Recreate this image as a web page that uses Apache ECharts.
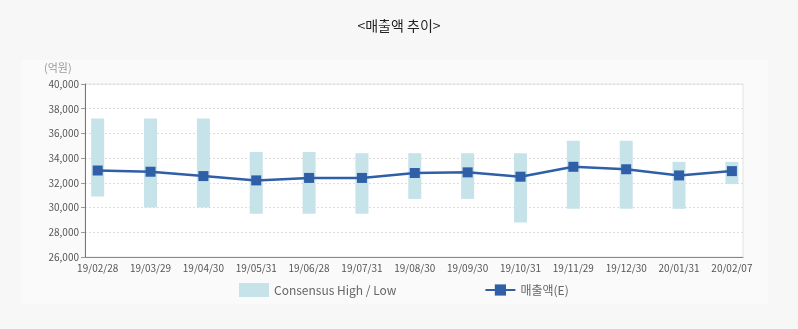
<!DOCTYPE html>
<html>
<head>
<meta charset="utf-8">
<script src="https://cdn.jsdelivr.net/npm/echarts@6/dist/echarts.min.js"></script>
<style>
  html, body { margin: 0; padding: 0; background: #f7f7f7; }
  #chart { width: 798px; height: 329px; }
</style>
</head>
<body>
<div id="chart"></div>
<script>
// Period labels for each consensus snapshot
const categories = ['19/02/28', '19/03/29', '19/04/30', '19/05/31', '19/06/28', '19/07/31',
  '19/08/30', '19/09/30', '19/10/31', '19/11/29', '19/12/30', '20/01/31', '20/02/07'];
// Consensus range (억원)
const consensusHigh = [37200, 37200, 37200, 34500, 34500, 34400, 34400, 34400, 34400, 35400, 35400, 33700, 33700];
const consensusLow = [30900, 30000, 30000, 29500, 29500, 29500, 30700, 30700, 28800, 29900, 29900, 29900, 31900];
// Sales estimate (억원)
const salesEst = [33000, 32900, 32550, 32200, 32400, 32400, 32800, 32850, 32500, 33300, 33100, 32600, 32950];
// Y axis ticks
const yTicks = [26000, 28000, 30000, 32000, 34000, 36000, 38000, 40000];

const idx = categories.map((_, i) => i);
const rangeData = idx.map(i => [i, consensusLow[i], consensusHigh[i]]);
const lineData = idx.map(i => [i, salesEst[i]]);

const chart = echarts.init(document.getElementById('chart'), null, { renderer: 'canvas' });
const fontFam = '"Noto Sans CJK KR", "Noto Sans", sans-serif';
const barColor = '#c6e3ea';
const lineColor = '#2f5fa7';
const BAR_W = 13;

chart.setOption({
  backgroundColor: '#f7f7f7',
  animation: false,
  title: {
    text: '<매출액 추이>',
    left: 'center',
    top: 14,
    textStyle: { fontFamily: fontFam, fontSize: 14, fontWeight: 'normal', color: '#222' }
  },
  graphic: [
    {
      type: 'rect', z: -10, silent: true,
      shape: { x: 22, y: 60, width: 746, height: 244 },
      style: { fill: '#fafafa' }
    },
    {
      type: 'text', left: 44, top: 62, silent: true,
      style: { text: '(억원)', font: '11px ' + fontFam, fill: '#999' }
    }
  ],
  legend: {
    bottom: 27,
    left: 234,
    itemGap: 88,
    itemWidth: 30,
    itemHeight: 14,
    textStyle: { fontFamily: fontFam, fontSize: 12, color: '#666' },
    data: [
      { name: 'Consensus High / Low', icon: 'rect', itemStyle: { color: barColor } },
      { name: '매출액(E)' }
    ]
  },
  grid: {
    left: 85, right: 55, top: 84, bottom: 72,
    show: true, backgroundColor: '#fff', borderColor: '#e2e2e2', borderWidth: 1
  },
  xAxis: {
    type: 'value',
    min: -0.24,
    max: 12.21,
    splitLine: { show: false },
    axisLine: { show: true, onZero: false, lineStyle: { color: '#888', width: 1 } },
    axisTick: { show: false },
    axisLabel: {
      customValues: idx,
      formatter: v => categories[Math.round(v)],
      fontFamily: fontFam, fontSize: 10, color: '#555', margin: 6
    }
  },
  yAxis: {
    type: 'value',
    min: 26000,
    max: 40000,
    interval: 2000,
    axisLine: { show: true, onZero: false, lineStyle: { color: '#777' } },
    axisTick: { show: true, length: 4, lineStyle: { color: '#999' } },
    axisLabel: {
      fontFamily: fontFam, fontSize: 10, color: '#555', margin: 6,
      formatter: v => v.toLocaleString('en-US')
    },
    splitLine: { show: true, lineStyle: { color: '#dcdcdc', type: [2, 2] } }
  },
  series: [
    {
      name: 'Consensus High / Low',
      type: 'custom',
      data: rangeData,
      itemStyle: { color: barColor },
      encode: { x: 0, y: [1, 2] },
      renderItem: (params, api) => {
        const lo = api.coord([api.value(0), api.value(1)]);
        const hi = api.coord([api.value(0), api.value(2)]);
        return {
          type: 'rect',
          shape: { x: lo[0] - BAR_W / 2, y: hi[1], width: BAR_W, height: lo[1] - hi[1] },
          style: { fill: barColor }
        };
      },
      z: 2
    },
    {
      name: '매출액(E)', type: 'line', data: lineData,
      symbol: 'rect', symbolSize: 10,
      lineStyle: { color: lineColor, width: 2.5 },
      itemStyle: { color: lineColor },
      z: 5
    }
  ]
});
</script>
</body>
</html>
